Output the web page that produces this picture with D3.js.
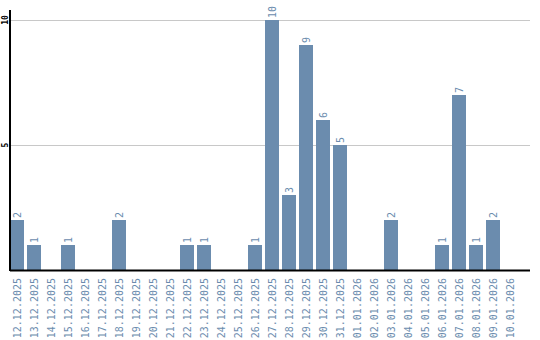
<!DOCTYPE html>
<html><head><meta charset="utf-8">
<script src="https://cdn.jsdelivr.net/npm/d3@7"></script>
<style>body{margin:0;background:#fff}svg{display:block}</style>
</head><body>
<script>
const categories = ["12.12.2025","13.12.2025","14.12.2025","15.12.2025","16.12.2025","17.12.2025","18.12.2025","19.12.2025","20.12.2025","21.12.2025","22.12.2025","23.12.2025","24.12.2025","25.12.2025","26.12.2025","27.12.2025","28.12.2025","29.12.2025","30.12.2025","31.12.2025","01.01.2026","02.01.2026","03.01.2026","04.01.2026","05.01.2026","06.01.2026","07.01.2026","08.01.2026","09.01.2026","10.01.2026"];
const values = [2,1,0,1,0,0,2,0,0,0,1,1,0,0,1,10,3,9,6,5,0,0,2,0,0,1,7,1,2,0];
const yTicks = [5,10];

(function(){
const W=540,H=340, mL=10, mR=530, mT=10, mB=270;
const color="#6b8cae";
const svg=d3.select("body").append("svg").attr("width",W).attr("height",H);
const x=d3.scaleBand().domain(categories).range([mL,mL+17*categories.length-3]).paddingInner(3/17).paddingOuter(0).align(0);
const y=d3.scaleLinear().domain([0,10]).range([mB,20]);

svg.append("g").selectAll("line").data(yTicks).join("line")
 .attr("x1",mL).attr("x2",mR).attr("y1",d=>y(d)+0.5).attr("y2",d=>y(d)+0.5)
 .attr("stroke","#c8c8c8").attr("stroke-width",1);

svg.append("g").selectAll("text").data(yTicks).join("text")
 .attr("transform",d=>`translate(8,${y(d)}) rotate(-90)`)
 .attr("text-anchor","middle").attr("font-family","DejaVu Sans Mono").attr("font-size",8).attr("font-weight","bold")
 .attr("fill","#000").text(d=>d);

const bars=categories.map((c,i)=>({c,v:values[i]}));
svg.append("g").selectAll("rect").data(bars.filter(d=>d.v>0)).join("rect")
 .attr("x",d=>x(d.c)).attr("width",x.bandwidth())
 .attr("y",d=>y(d.v)).attr("height",d=>y(0)-y(d.v)).attr("fill",color);

svg.append("g").selectAll("text").data(bars.filter(d=>d.v>0)).join("text")
 .attr("transform",d=>`translate(${x(d.c)+x.bandwidth()/2+4},${y(d.v)-2}) rotate(-90)`)
 .attr("font-family","DejaVu Sans Mono").attr("font-size",10).attr("fill",color).text(d=>d.v);

svg.append("line").attr("x1",mL).attr("x2",mL).attr("y1",mT).attr("y2",mB+1).attr("stroke","#000").attr("stroke-width",2);
svg.append("line").attr("x1",mL).attr("x2",mR).attr("y1",mB+0.5).attr("y2",mB+0.5).attr("stroke","#000").attr("stroke-width",2);

svg.append("g").selectAll("text").data(categories).join("text")
 .attr("transform",d=>`translate(${x(d)+x.bandwidth()/2+4},278) rotate(-90)`)
 .attr("text-anchor","end").attr("font-family","DejaVu Sans Mono").attr("font-size",10).attr("fill",color).text(d=>d);
})();
</script>
</body></html>
